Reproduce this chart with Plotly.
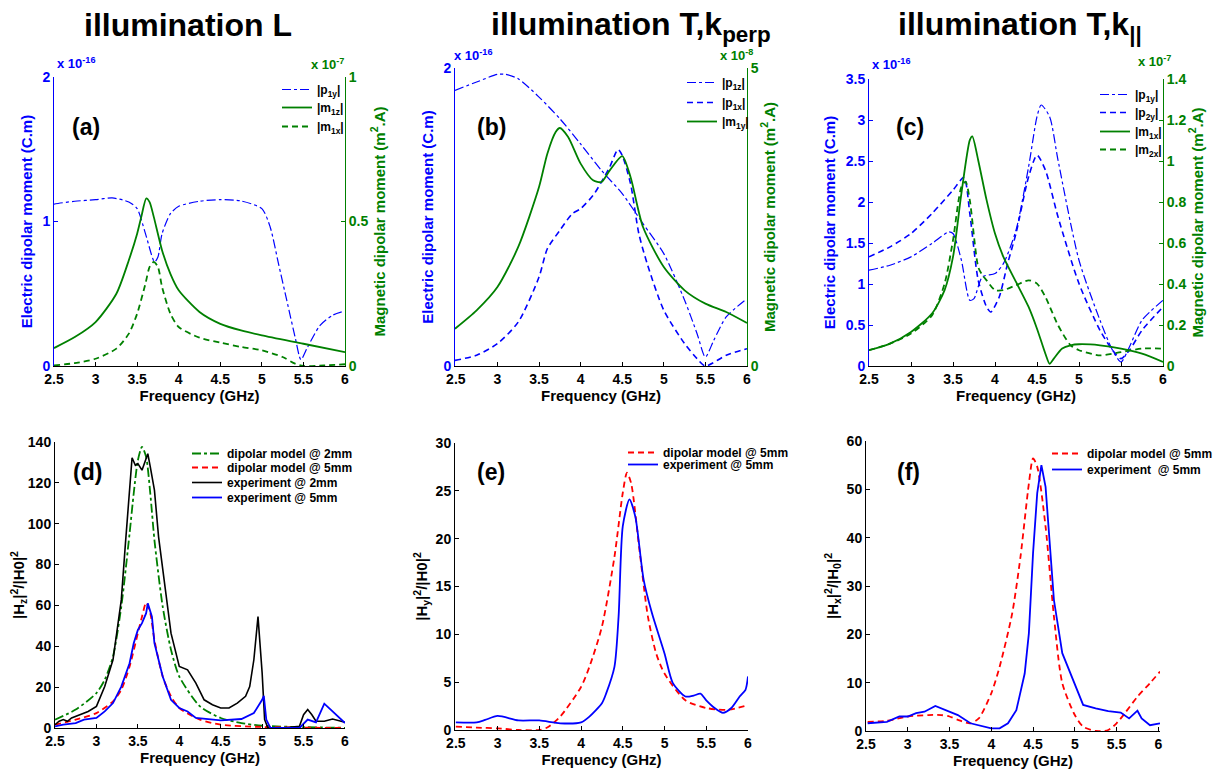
import plotly.graph_objects as go

# page offset of the figure inside the html body (default body margin)
OFF = 8
W, H = 1223 - OFF, 773 - OFF
BLUE = "#0000ff"; GREEN = "#008000"; RED = "#ff0000"; BLACK = "#000000"
FONT = "Liberation Sans"

# ---------------- Panel (a): illumination L ----------------
a_p1y_f = [2.5, 2.52, 2.75, 3.0, 3.2, 3.4, 3.5, 3.6, 3.71, 3.75, 3.8, 3.9, 4.0, 4.25, 4.5, 4.75, 5.0, 5.1, 5.2, 5.3, 5.4, 5.47, 5.55, 5.7, 5.85, 6.0]
a_p1y_v = [1.12, 1.123, 1.14, 1.151, 1.163, 1.135, 1.089, 0.916, 0.72, 0.754, 0.916, 1.054, 1.105, 1.14, 1.151, 1.142, 1.089, 0.962, 0.708, 0.454, 0.2, 0.044, 0.131, 0.281, 0.351, 0.381]
a_m1z_f = [2.5, 2.75, 3.0, 3.25, 3.4, 3.5, 3.55, 3.61, 3.65, 3.7, 3.8, 3.9, 4.0, 4.25, 4.5, 4.75, 5.0, 5.5, 6.0]
a_m1z_v = [0.062, 0.100, 0.152, 0.25, 0.366, 0.458, 0.516, 0.58, 0.567, 0.516, 0.40, 0.319, 0.262, 0.187, 0.146, 0.123, 0.106, 0.077, 0.048]
a_m1x_f = [2.5, 2.75, 3.0, 3.25, 3.4, 3.5, 3.6, 3.65, 3.7, 3.75, 3.8, 3.9, 4.0, 4.25, 4.5, 4.75, 5.0, 5.25, 5.4, 5.5, 5.75, 6.0]
a_m1x_v = [0.002, 0.010, 0.025, 0.06, 0.112, 0.181, 0.285, 0.343, 0.36, 0.343, 0.273, 0.181, 0.135, 0.098, 0.081, 0.066, 0.054, 0.031, 0.008, 0.0, 0.002, 0.006]

# ---------------- Panel (b): illumination T, k_perp ----------------
b_p1z_f = [2.49, 2.75, 3.0, 3.1, 3.25, 3.5, 3.75, 4.0, 4.25, 4.5, 4.75, 5.0, 5.25, 5.4, 5.5, 5.6, 5.75, 6.0]
b_p1z_v = [1.850, 1.906, 1.957, 1.957, 1.928, 1.805, 1.66, 1.49, 1.313, 1.157, 0.955, 0.754, 0.441, 0.217, 0.06, 0.172, 0.329, 0.452]
b_p1x_f = [2.49, 2.75, 3.0, 3.25, 3.5, 3.6, 3.75, 3.9, 4.0, 4.15, 4.25, 4.35, 4.45, 4.5, 4.6, 4.7, 4.8, 5.0, 5.25, 5.4, 5.5, 5.75, 6.0]
b_p1x_v = [0.038, 0.072, 0.150, 0.295, 0.597, 0.787, 0.910, 1.022, 1.056, 1.145, 1.235, 1.336, 1.454, 1.414, 1.224, 0.888, 0.687, 0.374, 0.15, 0.049, 0.0, 0.072, 0.116]
b_m1y_f = [2.49, 2.75, 3.0, 3.25, 3.5, 3.6, 3.7, 3.75, 3.85, 4.0, 4.15, 4.25, 4.35, 4.5, 4.6, 4.75, 5.0, 5.25, 5.5, 5.75, 6.0]
b_m1y_v = [0.626, 0.934, 1.325, 1.997, 3.003, 3.563, 3.926, 3.993, 3.842, 3.395, 3.115, 3.087, 3.283, 3.523, 3.171, 2.332, 1.661, 1.270, 1.046, 0.906, 0.721]

# ---------------- Panel (c): illumination T, k_par ----------------
c_p1y_f = [2.5, 2.75, 3.0, 3.25, 3.45, 3.5, 3.6, 3.7, 3.75, 3.85, 4.0, 4.1, 4.25, 4.4, 4.5, 4.55, 4.65, 4.75, 5.0, 5.25, 5.4, 5.5, 5.6, 5.75, 6.0]
c_p1y_v = [1.168, 1.229, 1.331, 1.494, 1.636, 1.616, 1.29, 0.802, 0.822, 1.087, 1.127, 1.249, 1.656, 2.43, 3.04, 3.183, 3.04, 2.511, 1.29, 0.558, 0.191, 0.049, 0.232, 0.558, 0.802]
c_p2y_f = [2.5, 2.75, 3.0, 3.25, 3.5, 3.63, 3.7, 3.8, 3.9, 3.95, 4.05, 4.15, 4.25, 4.4, 4.5, 4.6, 4.75, 5.0, 5.25, 5.4, 5.5, 5.6, 5.75, 6.0]
c_p2y_v = [1.331, 1.453, 1.616, 1.86, 2.145, 2.3, 1.86, 1.046, 0.72, 0.659, 0.842, 1.249, 1.616, 2.308, 2.572, 2.389, 1.819, 1.005, 0.435, 0.191, 0.09, 0.191, 0.435, 0.72]
c_m1x_f = [2.5, 2.75, 3.0, 3.25, 3.4, 3.5, 3.6, 3.7, 3.73, 3.8, 3.9, 4.0, 4.1, 4.25, 4.4, 4.5, 4.6, 4.65, 4.7, 4.8, 4.9, 5.0, 5.25, 5.5, 5.75, 6.0]
c_m1x_v = [0.077, 0.109, 0.166, 0.256, 0.37, 0.532, 0.842, 1.102, 1.12, 1.004, 0.809, 0.646, 0.532, 0.41, 0.288, 0.182, 0.06, 0.011, 0.036, 0.085, 0.101, 0.106, 0.101, 0.085, 0.06, 0.02]
c_m2x_f = [2.5, 2.75, 3.0, 3.25, 3.4, 3.5, 3.6, 3.65, 3.7, 3.8, 3.85, 3.9, 4.0, 4.1, 4.25, 4.4, 4.5, 4.6, 4.75, 4.9, 5.0, 5.25, 5.5, 5.75, 6.0]
c_m2x_v = [0.077, 0.109, 0.158, 0.247, 0.402, 0.614, 0.874, 0.899, 0.809, 0.483, 0.443, 0.418, 0.37, 0.37, 0.394, 0.418, 0.402, 0.337, 0.199, 0.101, 0.077, 0.052, 0.068, 0.085, 0.085]

# ---------------- Panel (d): |Hz|^2/|H0|^2 ----------------
d_dm2_f = [2.5, 2.75, 3.0, 3.1, 3.2, 3.3, 3.4, 3.45, 3.5, 3.55, 3.6, 3.65, 3.7, 3.8, 3.9, 4.0, 4.25, 4.5, 4.75, 5.0, 5.5, 6.0]
d_dm2_v = [4.1, 9.0, 17.1, 23.6, 35, 59.4, 95.2, 114.8, 131, 137.6, 132.7, 114.8, 92, 59.4, 38.3, 25.2, 10.6, 4.9, 2.4, 1.1, 0.4, 0.1]
d_dm5_f = [2.5, 2.75, 3.0, 3.2, 3.3, 3.4, 3.5, 3.55, 3.6, 3.65, 3.7, 3.8, 3.9, 4.0, 4.25, 4.5, 5.0, 6.0]
d_dm5_v = [1.6, 4.1, 7.3, 13, 18.7, 30.1, 46.4, 54.5, 61.4, 56.2, 43.1, 25.2, 15.5, 9.8, 4.1, 1.6, 0.5, 0.0]
d_ex2_f = [2.5, 2.55, 2.6, 2.65, 2.7, 2.8, 2.9, 3.0, 3.1, 3.2, 3.3, 3.35, 3.4, 3.43, 3.47, 3.5, 3.55, 3.6, 3.62, 3.65, 3.7, 3.75, 3.8, 3.85, 3.9, 4.0, 4.1, 4.2, 4.3, 4.4, 4.5, 4.6, 4.7, 4.8, 4.85, 4.9, 4.95, 5.0, 5.03, 5.07, 5.25, 5.45, 5.5, 5.55, 5.6, 5.65, 5.75, 5.85, 6.0]
d_ex2_v = [1.6, 3.3, 4.1, 3.3, 4.9, 6.5, 8.1, 10.6, 20.3, 33.4, 62.7, 90.3, 118, 132.3, 128.6, 129.4, 126.2, 131.9, 134.3, 127.8, 116.4, 93.6, 77.3, 62.7, 46.4, 30.1, 28.5, 22, 13.8, 11.4, 9.8, 9.8, 12.2, 15.5, 20.3, 33.4, 54.5, 26.9, 4.1, 0.0, 0.0, 0.8, 6.5, 9.0, 6.5, 3.3, 3.3, 4.4, 2.8]
d_ex5_f = [2.5, 2.6, 2.75, 2.85, 3.0, 3.1, 3.2, 3.3, 3.4, 3.45, 3.5, 3.55, 3.6, 3.62, 3.67, 3.7, 3.8, 3.9, 4.0, 4.1, 4.2, 4.5, 4.75, 4.9, 5.0, 5.02, 5.05, 5.1, 5.45, 5.55, 5.65, 5.75, 5.85, 5.95, 6.0]
d_ex5_v = [0.8, 1.6, 2.4, 4.1, 4.9, 8.1, 12.2, 20.3, 31.7, 41.5, 48, 51.3, 56.2, 61, 54.5, 41.5, 25.2, 13.8, 9.8, 8.1, 4.9, 3.7, 4.4, 7.3, 13.8, 15.8, 4.1, 0.0, 0.0, 4.1, 2.8, 11.9, 8.1, 4.1, 2.4]

# ---------------- Panel (e): |Hy|^2/|H0|^2 ----------------
e_dm5_f = [2.5, 2.75, 3.0, 3.25, 3.5, 3.6, 3.75, 4.0, 4.1, 4.25, 4.4, 4.5, 4.55, 4.6, 4.7, 4.8, 4.9, 5.0, 5.25, 5.5, 5.75, 6.0]
e_dm5_v = [0.35, 0.25, 0.17, 0.0, 0.0, 0.28, 1.4, 4.5, 6.6, 10.8, 18.1, 24.8, 26.9, 25.8, 18.8, 11.9, 8.0, 5.9, 3.1, 2.3, 2.1, 2.6]
e_ex5_f = [2.5, 2.75, 2.85, 3.0, 3.25, 3.5, 3.75, 4.0, 4.1, 4.25, 4.3, 4.4, 4.45, 4.5, 4.58, 4.65, 4.75, 4.85, 5.0, 5.1, 5.25, 5.35, 5.43, 5.5, 5.6, 5.7, 5.8, 5.9, 5.97, 6.0]
e_ex5_v = [0.8, 0.8, 1.05, 1.47, 1.0, 1.0, 0.7, 0.8, 1.4, 2.8, 3.8, 6.6, 11.9, 21.3, 24.1, 22.3, 15.7, 12.2, 8.0, 4.9, 3.5, 3.6, 3.8, 3.1, 2.3, 1.8, 2.3, 3.5, 4.2, 5.6]

# ---------------- Panel (f): |Hx|^2/|H0|^2 ----------------
f_dm5_f = [2.52, 2.75, 3.0, 3.25, 3.4, 3.5, 3.6, 3.75, 3.85, 4.0, 4.1, 4.25, 4.35, 4.45, 4.5, 4.55, 4.65, 4.75, 4.85, 5.0, 5.1, 5.25, 5.4, 5.5, 5.6, 5.75, 5.9, 6.02]
f_dm5_v = [1.9, 2.1, 3.0, 3.3, 3.3, 3.0, 2.3, 1.6, 2.6, 7.8, 13.3, 24.3, 36.1, 51.2, 56.4, 54.7, 42.3, 23.7, 9.9, 3.3, 0.9, 0.0, 0.2, 1.6, 3.7, 7.1, 9.9, 12.3]
f_ex5_f = [2.52, 2.75, 2.9, 3.0, 3.1, 3.2, 3.33, 3.5, 3.6, 3.75, 3.9, 4.0, 4.1, 4.2, 4.3, 4.4, 4.45, 4.5, 4.55, 4.6, 4.65, 4.7, 4.75, 4.85, 5.0, 5.1, 5.25, 5.4, 5.55, 5.65, 5.75, 5.8, 5.9, 6.02]
f_ex5_v = [1.6, 1.9, 3.0, 3.0, 3.7, 4.0, 5.2, 4.0, 3.3, 1.6, 0.9, 0.55, 0.55, 1.6, 4.3, 11.9, 20.2, 36.8, 49.2, 55.0, 50.5, 39.5, 27.1, 16.1, 9.9, 5.4, 4.7, 4.1, 3.8, 2.6, 4.2, 2.6, 1.2, 1.6]

x_ticks = [2.5, 3, 3.5, 4, 4.5, 5, 5.5, 6]
x_ticktext = ["2.5", "3", "3.5", "4", "4.5", "5", "5.5", "6"]

fig = go.Figure()


def X(px):
    return (px - OFF) / W


def Y(py):
    return 1 - (py - OFF) / H


def xdom(l, r):
    return [X(l), X(r)]


def ydom(t, b):
    return [Y(b), Y(t)]


legfont = dict(family=FONT, size=12, color="#000000")
legends = {}
DASH = "6px,4px"


def add(x, y, xa, ya, name, color, dash, width, pos, spline=True):
    key = "legend" if not legends else "legend%d" % (len(legends) + 1)
    text_left, row = pos
    legends[key] = dict(x=X(text_left - 40), y=Y(row - 15), xanchor="left", yanchor="top",
                        bgcolor="rgba(0,0,0,0)", borderwidth=0, font=legfont, visible=True,
                        itemclick=False, itemdoubleclick=False)
    fig.add_trace(go.Scatter(
        x=x, y=y, xaxis=xa, yaxis=ya, mode="lines",
        name="<b>" + name + "</b>",
        line=dict(color=color, dash=dash, width=width,
                  shape="spline" if spline else "linear", smoothing=0.7),
        legend=key, showlegend=True, hoverinfo="skip"))


# (a)
add(a_p1y_f, a_p1y_v, "x", "y", "|p<sub>1y</sub>|", BLUE, "dashdot", 1.2, (317, 90))
add(a_m1z_f, a_m1z_v, "x", "y2", "|m<sub>1z</sub>|", GREEN, "solid", 1.8, (317, 108))
add(a_m1x_f, a_m1x_v, "x", "y2", "|m<sub>1x</sub>|", GREEN, DASH, 1.8, (317, 127))
# (b)
add(b_p1z_f, b_p1z_v, "x2", "y3", "|p<sub>1z</sub>|", BLUE, "dashdot", 1.2, (722, 83))
add(b_p1x_f, b_p1x_v, "x2", "y3", "|p<sub>1x</sub>|", BLUE, DASH, 1.6, (722, 103))
add(b_m1y_f, b_m1y_v, "x2", "y4", "|m<sub>1y</sub>|", GREEN, "solid", 1.8, (722, 122))
# (c)
add(c_p1y_f, c_p1y_v, "x3", "y5", "|p<sub>1y</sub>|", BLUE, "dashdot", 1.2, (1135, 95))
add(c_p2y_f, c_p2y_v, "x3", "y5", "|p<sub>2y</sub>|", BLUE, DASH, 1.6, (1135, 113))
add(c_m1x_f, c_m1x_v, "x3", "y6", "|m<sub>1x</sub>|", GREEN, "solid", 1.8, (1135, 132))
add(c_m2x_f, c_m2x_v, "x3", "y6", "|m<sub>2x</sub>|", GREEN, DASH, 1.8, (1135, 150))
# (d)
add(d_dm2_f, d_dm2_v, "x4", "y7", "dipolar model @ 2mm", GREEN, "dashdot", 1.8, (227, 454))
add(d_dm5_f, d_dm5_v, "x4", "y7", "dipolar model @ 5mm", RED, DASH, 1.8, (227, 468))
add(d_ex2_f, d_ex2_v, "x4", "y7", "experiment @ 2mm", BLACK, "solid", 1.6, (227, 483), spline=False)
add(d_ex5_f, d_ex5_v, "x4", "y7", "experiment @ 5mm", BLUE, "solid", 1.8, (227, 498), spline=False)
# (e)
add(e_dm5_f, e_dm5_v, "x5", "y8", "dipolar model @ 5mm", RED, DASH, 1.8, (663, 453))
add(e_ex5_f, e_ex5_v, "x5", "y8", "experiment @ 5mm", BLUE, "solid", 1.8, (663, 465))
# (f)
add(f_dm5_f, f_dm5_v, "x6", "y9", "dipolar model @ 5mm", RED, DASH, 1.8, (1087, 454))
add(f_ex5_f, f_ex5_v, "x6", "y9", "experiment &nbsp;@ 5mm", BLUE, "solid", 1.8, (1087, 470), spline=False)

tickfont = dict(family=FONT, size=14, weight="bold")


def xaxis(dom, rng, anchor, title):
    return dict(domain=xdom(*dom), range=rng, anchor=anchor, tickvals=x_ticks, ticktext=x_ticktext,
                showline=True, linecolor="#000000", linewidth=1, ticks="inside", ticklen=4,
                tickcolor="#000000", showgrid=False, zeroline=False, mirror=False,
                tickfont=dict(tickfont, color="#000000"),
                title=dict(text=title, font=dict(family=FONT, size=15, weight="bold", color="#000000"), standoff=3),
                automargin=False, fixedrange=True)


def yaxis(dom, rng, tick, anchor, color, title, side="left", overlay=None, standoff=6):
    d = dict(range=rng, anchor=anchor, tickvals=tick, side=side,
             showline=True, linecolor=color, linewidth=1, ticks="inside", ticklen=4,
             tickcolor=color, showgrid=False, zeroline=False,
             tickfont=dict(tickfont, color=color),
             title=dict(text=title, font=dict(family=FONT, size=15, weight="bold", color=color), standoff=standoff),
             automargin=False, fixedrange=True)
    if overlay:
        d["overlaying"] = overlay
    else:
        d["domain"] = ydom(*dom)
    return d


E_TITLE = "Electric dipolar moment (C.m)"
M_TITLE = "Magnetic dipolar moment (m<sup>2</sup>.A)"
FREQ = "Frequency (GHz)"

fig.update_layout(
    xaxis=xaxis((54, 345), [2.5, 6.0], "y", FREQ),
    yaxis=yaxis((77, 366), [0, 2], [0, 1, 2], "x", BLUE, E_TITLE),
    yaxis2=yaxis(None, [0, 1], [0, 0.5, 1], "x", GREEN, M_TITLE, side="right", overlay="y", standoff=6),
    xaxis2=xaxis((455, 747), [2.49, 6.0], "y3", FREQ),
    yaxis3=yaxis((68, 366), [0, 2], [0, 2], "x2", BLUE, E_TITLE),
    yaxis4=yaxis(None, [0, 5], [0, 5], "x2", GREEN, M_TITLE, side="right", overlay="y3", standoff=6),
    xaxis3=xaxis((869, 1163), [2.5, 6.0], "y5", FREQ),
    yaxis5=yaxis((79, 366), [0, 3.5], [0, 0.5, 1, 1.5, 2, 2.5, 3, 3.5], "x3", BLUE, E_TITLE),
    yaxis6=yaxis(None, [0, 1.4], [0, 0.2, 0.4, 0.6, 0.8, 1, 1.2, 1.4], "x3", GREEN, M_TITLE, side="right", overlay="y5", standoff=6),
    xaxis4=xaxis((55, 345), [2.5, 6.0], "y7", FREQ),
    yaxis7=yaxis((442, 728), [0, 140], list(range(0, 141, 20)), "x4", BLACK,
                 "|H<sub>z</sub>|<sup>2</sup>/|H0|<sup>2</sup>", standoff=4),
    xaxis5=xaxis((455, 748), [2.49, 6.0], "y8", FREQ),
    yaxis8=yaxis((443, 730), [0, 30], list(range(0, 31, 5)), "x5", BLACK,
                 "|H<sub>y</sub>|<sup>2</sup>/|H0|<sup>2</sup>", standoff=4),
    xaxis6=xaxis((866, 1160), [2.5, 6.02], "y9", FREQ),
    yaxis9=yaxis((441, 731), [0, 60], list(range(0, 61, 10)), "x6", BLACK,
                 "|H<sub>x</sub>|<sup>2</sup>/|H<sub>0</sub>|<sup>2</sup>", standoff=4),
)

fig.update_layout(showlegend=True, **legends)

ann = []


def txt(x, y, text, size, color="#000000", xanchor="center", yanchor="middle"):
    ann.append(dict(x=X(x), y=Y(y), xref="paper", yref="paper", text=text, showarrow=False,
                    xanchor=xanchor, yanchor=yanchor, font=dict(family=FONT, size=size, color=color)))


txt(188, 25, "<b>illumination L</b>", 32)
txt(631, 26, "<b>illumination T,k<sub>perp</sub></b>", 32)
txt(1020, 26, "<b>illumination T,k<sub>||</sub></b>", 32)

txt(55, 63, "<b>x 10<sup>-16</sup></b>", 13, BLUE, xanchor="left")
txt(346, 64, "<b>x 10<sup>-7</sup></b>", 13, GREEN, xanchor="right")
txt(452, 55, "<b>x 10<sup>-16</sup></b>", 13, BLUE, xanchor="left")
txt(755, 55, "<b>x 10<sup>-8</sup></b>", 13, GREEN, xanchor="right")
txt(870, 64, "<b>x 10<sup>-16</sup></b>", 13, BLUE, xanchor="left")
txt(1173, 61, "<b>x 10<sup>-7</sup></b>", 13, GREEN, xanchor="right")

txt(86, 127, "<b>(a)</b>", 23)
txt(491, 127, "<b>(b)</b>", 23)
txt(910, 127, "<b>(c)</b>", 23)
txt(87, 472, "<b>(d)</b>", 23)
txt(491, 472, "<b>(e)</b>", 23)
txt(908, 472, "<b>(f)</b>", 23)

fig.update_layout(annotations=ann, width=W, height=H, margin=dict(l=0, r=0, t=0, b=0),
                  paper_bgcolor="white", plot_bgcolor="white", autosize=False,
                  font=dict(family=FONT))

fig.write_html("out.html")
